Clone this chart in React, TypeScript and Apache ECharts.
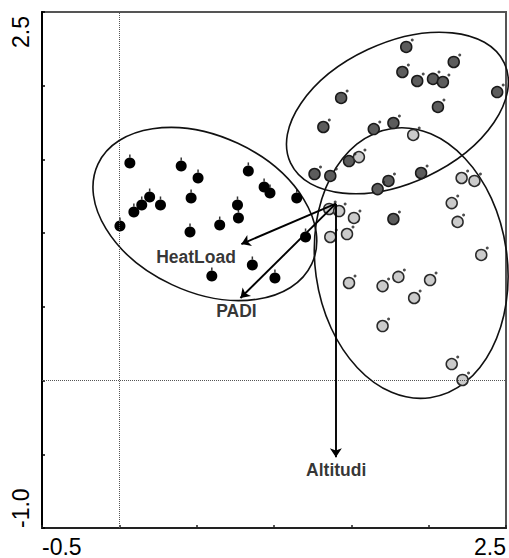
import React, { useEffect, useRef } from "react";
import * as echarts from "echarts";

// ---- data (ordination scores) ----
const blackSites: [number, number][] = [
  [0.068, 1.476], [0.4, 1.455], [0.509, 1.374], [0.834, 1.422], [0.196, 1.245],
  [0.145, 1.191], [0.094, 1.143], [0.266, 1.191], [0.464, 1.238], [0.764, 1.191],
  [0.004, 1.048], [0.457, 1.008], [0.649, 1.055], [0.77, 1.103], [0.86, 0.784],
  [0.598, 0.709], [0.936, 1.313], [0.974, 1.272], [1.147, 1.238], [1.204, 0.974],
  [1.006, 0.696],
];
const darkSites: [number, number][] = [
  [1.855, 2.263], [2.162, 2.161], [1.83, 2.093], [1.926, 2.032], [2.028, 2.046],
  [2.092, 2.025], [2.443, 1.957], [1.434, 1.917], [2.06, 1.856], [1.319, 1.72],
  [1.645, 1.706], [1.772, 1.747], [1.485, 1.489], [1.262, 1.401], [1.364, 1.388],
  [1.951, 1.408], [1.74, 1.354], [1.67, 1.299], [1.772, 1.096],
];
const lightSites: [number, number][] = [
  [1.9, 1.666], [1.549, 1.516], [2.213, 1.374], [2.296, 1.354], [1.357, 1.164],
  [1.421, 1.15], [1.517, 1.103], [1.364, 0.974], [1.472, 0.994], [2.149, 1.204],
  [2.187, 1.076], [2.34, 0.852], [1.485, 0.662], [1.702, 0.641], [1.804, 0.703],
  [2.009, 0.682], [1.906, 0.56], [1.702, 0.37], [2.149, 0.112], [2.219, 0.004],
];
const arrowOrigin: [number, number] = [1.4, 1.2];
const arrowNames = ["HeatLoad", "PADI", "Altitudi"];
const arrowEnds: [number, number][] = [[0.789, 0.926], [0.783, 0.56], [1.4, -0.52]];
const arrowLabelAt: [number, number][] = [[0.496, 0.838], [0.757, 0.472], [1.402, -0.607]];
const ellipseCenters: [number, number][] = [[0.553, 1.13], [1.798, 1.815], [1.887, 0.797]];
const xTickLabels = ["-0.5", "2.5"];
const yTickLabels = ["2.5", "-1.0"];

// ---- shape / style constants (pixels, degrees) ----
const ellipseShapes = [
  { rx: 118, ry: 78, rot: -25 },
  { rx: 118, ry: 70, rot: 25 },
  { rx: 96, ry: 136, rot: 8 },
];
const FONT = "Liberation Sans, Arial, sans-serif";

export default function App() {
  const ref = useRef<HTMLDivElement>(null);
  useEffect(() => {
    if (!ref.current) return;
    const chart = echarts.init(ref.current, null, { renderer: "svg" });
    const fmt = (labels: string[]) => (v: number) => {
      const s = v.toFixed(1);
      return labels.includes(s) ? s : "";
    };
    const siteSeries = (data: [number, number][], fill: string, border: string, bw: number) => ({
      type: "scatter",
      data,
      symbol: "circle",
      symbolSize: 11,
      itemStyle: { color: fill, borderColor: border, borderWidth: bw, opacity: 1 },
      z: 4,
    });
    const option: any = {
      animation: false,
      backgroundColor: "#fff",
      grid: {
        left: 42, top: 12, width: 470, height: 516,
        show: true, borderColor: "#555", borderWidth: 2, backgroundColor: "transparent",
      },
      xAxis: {
        type: "value", min: -0.5, max: 2.5, interval: 0.5,
        axisLine: { onZero: false, lineStyle: { color: "#222", width: 2 } },
        axisTick: { inside: true, length: 3, lineStyle: { color: "#222", width: 1.5 } },
        splitLine: { show: false },
        axisLabel: {
          formatter: fmt(xTickLabels), fontSize: 23, color: "#000", fontFamily: FONT,
          margin: 7, alignMinLabel: "left", alignMaxLabel: "right",
        },
      },
      yAxis: {
        type: "value", min: -1, max: 2.5, interval: 0.5,
        axisLine: { onZero: false, lineStyle: { color: "#000", width: 2 } },
        axisTick: { inside: true, length: 3, lineStyle: { color: "#000", width: 1.5 } },
        splitLine: { show: false },
        axisLabel: {
          formatter: fmt(yTickLabels), fontSize: 23, color: "#000", fontFamily: FONT,
          rotate: 90, margin: 10, alignMinLabel: "left", alignMaxLabel: "right",
          padding: [0, 4, 0, 0],
        },
      },
      series: [
        {
          type: "custom",
          coordinateSystem: "cartesian2d",
          data: ellipseCenters,
          clip: false,
          z: 2,
          renderItem: (params: any, api: any) => {
            const e = ellipseShapes[params.dataIndex];
            const c = api.coord([api.value(0), api.value(1)]);
            return {
              type: "ellipse",
              x: c[0], y: c[1],
              rotation: (e.rot * Math.PI) / 180,
              shape: { cx: 0, cy: 0, rx: e.rx, ry: e.ry },
              style: { fill: "none", stroke: "#111", lineWidth: 1.6 },
            };
          },
          markLine: {
            silent: true, symbol: "none", label: { show: false },
            lineStyle: { type: "dotted", color: "#555", width: 1 },
            data: [{ xAxis: 0 }, { yAxis: 0 }],
          },
        },
        siteSeries(blackSites, "#000", "#000", 0),
        siteSeries(darkSites, "#5c5c5c", "#1a1a1a", 1.5),
        siteSeries(lightSites, "#cbcbcb", "#2a2a2a", 1.5),
        {
          type: "scatter", data: blackSites, symbol: "rect", symbolSize: [1.5, 3],
          symbolOffset: [0, -7], itemStyle: { color: "#000" }, z: 4,
        },
        {
          type: "scatter", data: [...darkSites, ...lightSites], symbol: "circle", symbolSize: 3,
          symbolOffset: [6, -7], itemStyle: { color: "#222" }, z: 4,
        },
        {
          type: "lines",
          coordinateSystem: "cartesian2d",
          data: arrowEnds.map((e) => ({ coords: [arrowOrigin, e] })),
          symbol: ["none", "arrow"],
          symbolSize: 9,
          lineStyle: { color: "#000", width: 1.9, opacity: 1, curveness: 0 },
          z: 5,
        },
        {
          type: "scatter",
          data: arrowLabelAt.map((p, i) => ({ value: p, name: arrowNames[i] })),
          symbolSize: 0,
          label: {
            show: true, position: "inside", formatter: "{b}",
            fontSize: 17.5, fontWeight: "bold", color: "#000", fontFamily: FONT,
          },
          z: 6,
        },
      ],
    };
    chart.setOption(option);
    return () => chart.dispose();
  }, []);
  return (
    <div
      ref={ref}
      style={{ position: "fixed", left: 0, top: 0, width: 509, height: 558 }}
    />
  );
}
